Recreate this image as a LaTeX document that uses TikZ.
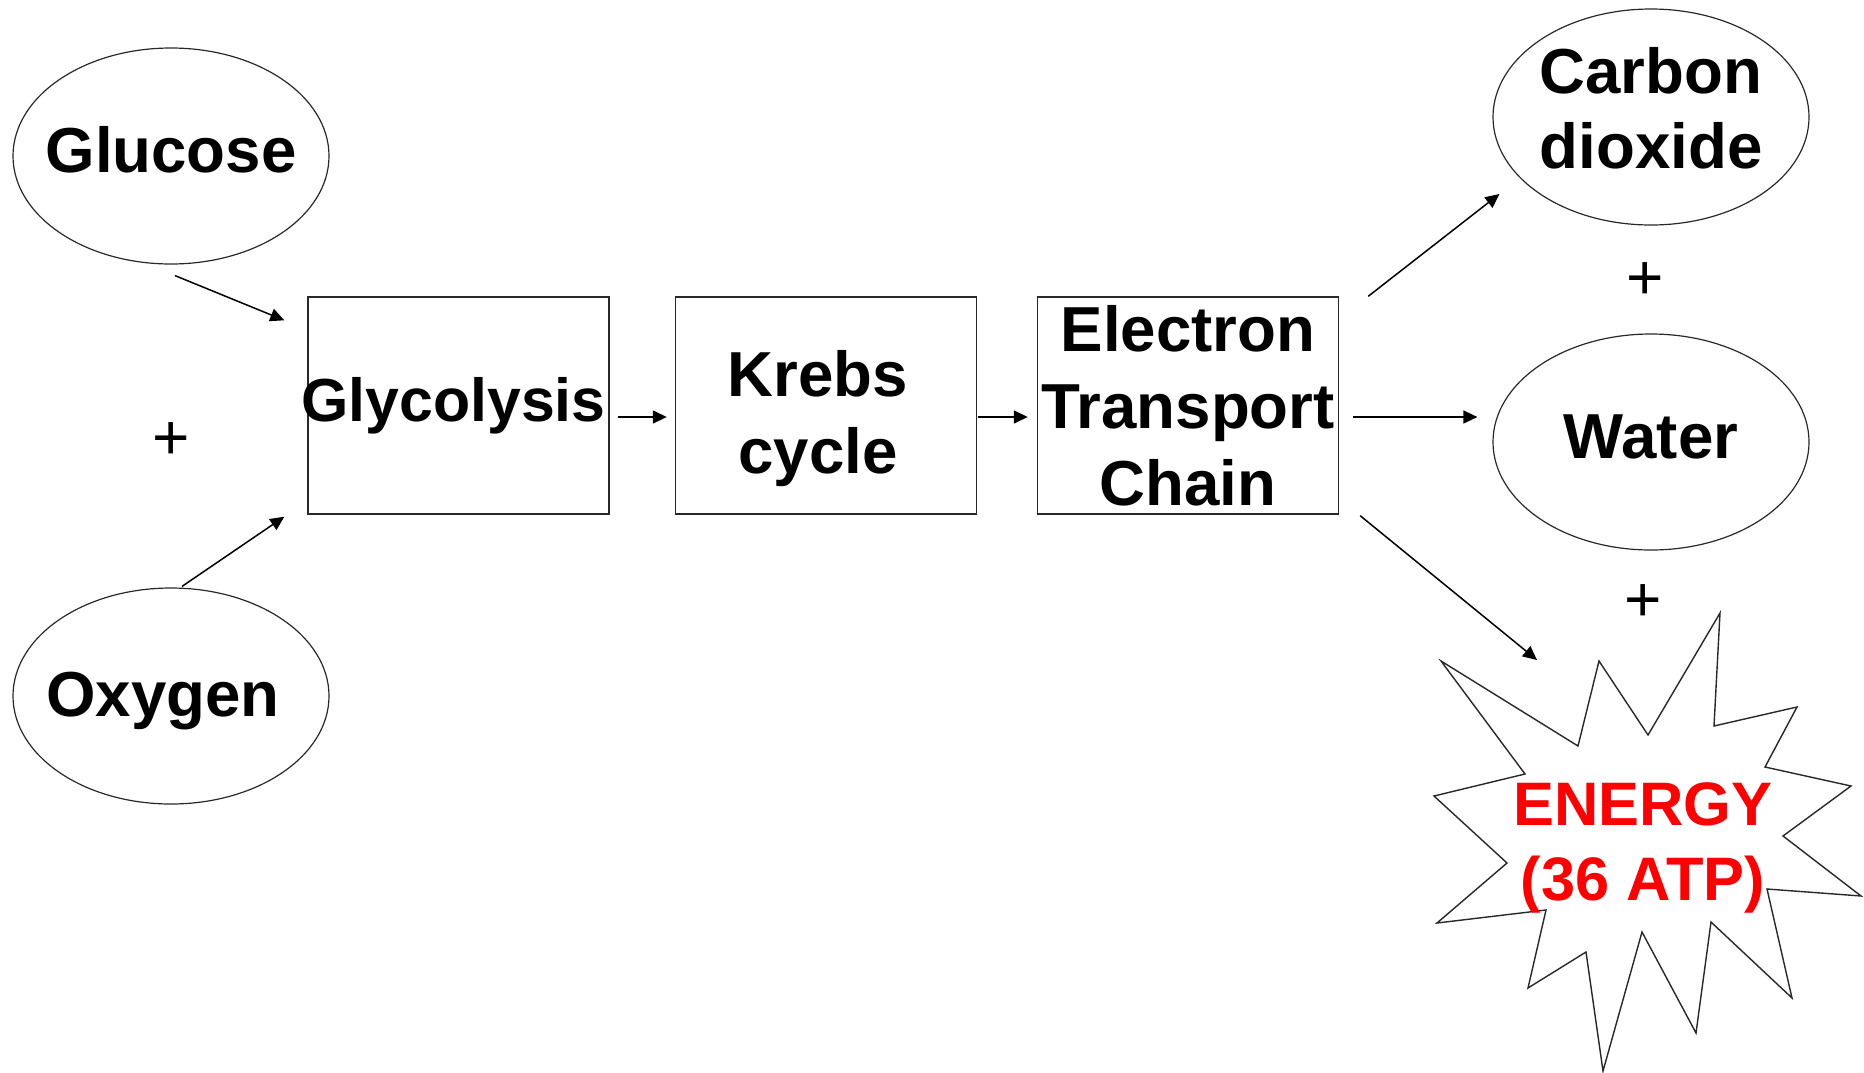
\documentclass[tikz,border=0pt]{standalone}
\usepackage{fontspec}
\setmainfont{Liberation Sans}
\usepackage{tikz}
\usetikzlibrary{shapes.geometric, positioning, arrows.meta, calc}
\definecolor{EnRed}{RGB}{255,0,0}
\definecolor{LineGray}{RGB}{40,40,40}
% move a label down (positive) or up (negative) inside its node
\newcommand{\nudge}[2]{\raisebox{0pt}[\dimexpr\height+#1\relax][\dimexpr\depth-#1\relax]{#2}}

\begin{document}
\begin{tikzpicture}[x=0.5pt, y=-0.5pt,
          blob/.style={ellipse, draw=LineGray, line width=0.6pt, minimum width=158pt,
                       minimum height=108pt, inner xsep=-40pt, inner ysep=-8pt, align=center,
                       font=\fontsize{31.8}{37.5}\selectfont\bfseries},
          stage/.style={rectangle, draw=LineGray, line width=0.7pt, minimum width=150.5pt,
                        minimum height=108.5pt, inner xsep=-20pt, inner ysep=0pt, align=center,
                        font=\fontsize{31.8}{38.5}\selectfont\bfseries},
          plus/.style={font=\fontsize{32}{32}\selectfont, inner sep=0pt},
          arr/.style={-{Triangle[length=7pt, width=6.5pt]}, line width=0.75pt},
          burst/.style={draw=LineGray, line width=0.7pt, line join=miter}
        ]
        \useasboundingbox (0,0) rectangle (1864,1072);

        % inputs
        \node[blob] (glucose) at (171,156) {\nudge{-3pt}{Glucose}};
        \node[plus] (plusin) at (171,441) {+};
        \node[blob] (oxygen)  at (171,696) {\nudge{2.5pt}{Oxygen}\hspace{8pt}};

        % the three stages
        \node[stage] (glyco) at (458.5,405.5)
              {\fontsize{30.4}{38.5}\selectfont Glycolysis\hspace{5pt}};
        \node[stage] (krebs) at (826,405.5)
              {\nudge{6.5pt}{\parbox{100pt}{\centering Krebs\\cycle}}\hspace{8pt}};
        \node[stage] (etc)   at (1188,405.5)  {Electron\\Transport\\Chain};

        % products
        \node[blob] (co2)   at (1651,117)
              {\nudge{-4.5pt}{\parbox{120pt}{\centering Carbon\\dioxide}}};
        \node[plus] (plusa) at (1645,281) {+};
        \node[blob] (water) at (1651,442) {\nudge{-2.5pt}{Water}};
        \node[plus] (plusb) at (1643,603) {+};

        % energy burst
        \draw[burst] (1441,661) -- (1578,746) -- (1599,661) -- (1648,735)
              -- (1720,613) -- (1714,726) -- (1797,707) -- (1765,767)
              -- (1851,786) -- (1783,836) -- (1861,896) -- (1767,889)
              -- (1792,998) -- (1711,922) -- (1696,1033) -- (1642,932)
              -- (1603,1071) -- (1586,952) -- (1528,988) -- (1546,910)
              -- (1437,923) -- (1507,863) -- (1434,796) -- (1525,774) -- cycle;
        \node[font=\fontsize{30.7}{37.5}\selectfont\bfseries, text=EnRed, align=center]
              (energy) at (1643,848) {ENERGY\\(36 ATP)};
        \coordinate (burstin) at (1537,660);

        \draw[arr] ($(glucose.south)+(4,11)$) -- ($(glyco.north west)+(-23,24)$);
        \draw[arr] ($(oxygen.north)+(11,-1)$) -- ($(glyco.south west)+(-23,2)$);
        \draw[arr] ($(glyco.east)+(8,11.5)$) -- ($(krebs.west)+(-8,11.5)$);
        \draw[arr] ($(krebs.east)+(1,11.5)$) -- ($(etc.west)+(-9,11.5)$);
        \draw[arr] ($(etc.north east)+(29,0)$) -- ($(co2.west)+(7,77)$);
        \draw[arr] ($(etc.east)+(14,11.5)$) -- ($(water.west)+(-15,-25)$);
        \draw[arr] ($(etc.south east)+(21,1)$) -- (burstin);
      \end{tikzpicture}
\end{document}
